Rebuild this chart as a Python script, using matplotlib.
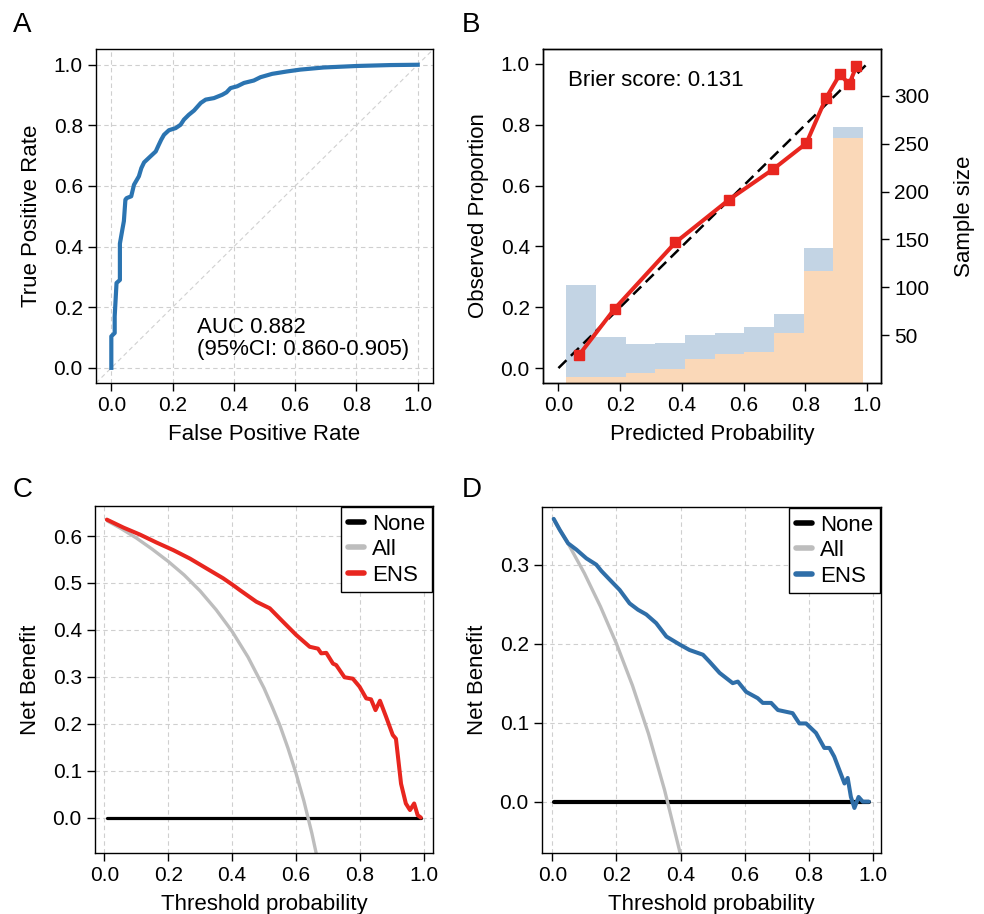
import matplotlib
matplotlib.use('Agg')
import matplotlib.pyplot as plt
import numpy as np

plt.rcParams['font.family'] = ['Liberation Sans', 'DejaVu Sans']
plt.rcParams['axes.linewidth'] = 1.0
plt.rcParams['xtick.major.size'] = 5.5
plt.rcParams['ytick.major.size'] = 5.5
plt.rcParams['xtick.major.width'] = 1.0
plt.rcParams['ytick.major.width'] = 1.0
plt.rcParams['xtick.labelsize'] = 15
plt.rcParams['ytick.labelsize'] = 15
plt.rcParams['axes.labelsize'] = 16

# ---------------- Data ----------------
# Panel A: ROC
roc_fpr = [0, 0, 0.011, 0.011, 0.017, 0.028, 0.028, 0.036, 0.041, 0.046, 0.05, 0.065, 0.074,
           0.09, 0.098, 0.107, 0.128, 0.145, 0.155, 0.163, 0.172, 0.188, 0.21, 0.226, 0.237,
           0.253, 0.27, 0.292, 0.308, 0.335, 0.362, 0.376, 0.389, 0.411, 0.433, 0.465, 0.487,
           0.525, 0.574, 0.617, 0.693, 0.802, 0.911, 1.0]
roc_tpr = [0, 0.104, 0.115, 0.17, 0.28, 0.29, 0.41, 0.456, 0.484, 0.555, 0.56, 0.566, 0.604,
           0.632, 0.659, 0.678, 0.698, 0.714, 0.736, 0.753, 0.769, 0.784, 0.791, 0.802, 0.819,
           0.835, 0.849, 0.874, 0.885, 0.89, 0.901, 0.909, 0.923, 0.929, 0.94, 0.948, 0.959,
           0.97, 0.978, 0.984, 0.991, 0.996, 0.999, 1.0]
auc_text = "AUC 0.882\n(95%CI: 0.860-0.905)"

# Panel B: calibration
cal_pred = [0.066, 0.182, 0.379, 0.553, 0.696, 0.803, 0.867, 0.912, 0.942, 0.965]
cal_obs = [0.042, 0.195, 0.413, 0.554, 0.654, 0.739, 0.888, 0.966, 0.933, 0.992]
hist_edges = [0.026, 0.122, 0.218, 0.314, 0.410, 0.506, 0.602, 0.698, 0.794, 0.890, 0.986]
hist_total = [102, 48, 41, 42, 50, 52, 58, 72, 141, 268]
hist_pos = [6, 6, 10, 15, 25, 30, 32, 52, 117, 256]
brier_text = "Brier score: 0.131"

# Panel C: DCA (red)
c_ens_t = [0.008, 0.06, 0.112, 0.164, 0.216, 0.268, 0.32, 0.372, 0.404, 0.424, 0.476, 0.518,
           0.56, 0.601, 0.643, 0.669, 0.679, 0.695, 0.716, 0.726, 0.752, 0.778, 0.799, 0.82,
           0.835, 0.849, 0.863, 0.882, 0.903, 0.913, 0.929, 0.944, 0.957, 0.97, 0.981, 0.991]
c_ens_nb = [0.635, 0.618, 0.603, 0.586, 0.570, 0.552, 0.531, 0.510, 0.495, 0.485, 0.460, 0.446,
            0.417, 0.389, 0.364, 0.360, 0.350, 0.351, 0.328, 0.325, 0.299, 0.296, 0.279, 0.254,
            0.252, 0.229, 0.249, 0.215, 0.176, 0.168, 0.072, 0.030, 0.016, 0.030, 0.005, 0.0]
c_all_t = [0.01, 0.05, 0.10, 0.15, 0.20, 0.25, 0.30, 0.35, 0.40, 0.45, 0.50, 0.525, 0.55,
           0.575, 0.60, 0.625, 0.65, 0.67]
c_all_nb = [0.632, 0.617, 0.596, 0.572, 0.546, 0.517, 0.483, 0.443, 0.397, 0.342, 0.276,
            0.237, 0.196, 0.148, 0.095, 0.035, -0.034, -0.097]
c_none_t = [0.01, 0.99]
c_none_nb = [0.0, 0.0]

# Panel D: DCA (blue)
d_ens_t = [0.004, 0.023, 0.049, 0.075, 0.106, 0.137, 0.153, 0.179, 0.21, 0.241, 0.267, 0.293,
           0.324, 0.356, 0.397, 0.428, 0.47, 0.491, 0.522, 0.563, 0.579, 0.605, 0.641, 0.657,
           0.683, 0.704, 0.75, 0.771, 0.792, 0.823, 0.849, 0.865, 0.88, 0.896, 0.912, 0.922,
           0.932, 0.943, 0.956, 0.969, 0.988]
d_ens_nb = [0.358, 0.344, 0.327, 0.319, 0.308, 0.300, 0.292, 0.281, 0.268, 0.251, 0.243, 0.237,
            0.226, 0.209, 0.199, 0.192, 0.186, 0.177, 0.163, 0.150, 0.152, 0.139, 0.131, 0.125,
            0.125, 0.116, 0.112, 0.099, 0.099, 0.087, 0.068, 0.068, 0.057, 0.040, 0.023, 0.030,
            0.006, -0.008, 0.006, 0.0, 0.0]
d_all_t = [0.004, 0.05, 0.10, 0.15, 0.20, 0.25, 0.30, 0.35, 0.40, 0.42]
d_all_nb = [0.357, 0.326, 0.289, 0.247, 0.200, 0.147, 0.086, 0.015, -0.067, -0.103]
d_none_t = [0.004, 0.99]
d_none_nb = [0.0, 0.0]

# ---------------- Figure ----------------
W, H = 984, 914
fig = plt.figure(figsize=(W / 100, H / 100), dpi=100)

def rect(l, r, t, b):
    return [l / W, 1 - b / H, (r - l) / W, (b - t) / H]

ax_a = fig.add_axes(rect(96, 433, 49, 383))
ax_b = fig.add_axes(rect(543, 881, 49, 383))
ax_c = fig.add_axes(rect(95, 433, 506, 853))
ax_d = fig.add_axes(rect(542, 881, 507, 853))

grid_kw = dict(color='#cfcfcf', linestyle=(0, (4, 3)), linewidth=0.8)
ticks = [0.0, 0.2, 0.4, 0.6, 0.8, 1.0]

# Panel A
ax_a.grid(True, **grid_kw)
ax_a.set_axisbelow(True)
ax_a.axline((0, 0), (1, 1), color='#d0d0d0', linestyle=(0, (4, 3)), linewidth=0.8)
ax_a.plot(roc_fpr, roc_tpr, color='#2b74b1', linewidth=3.0)
ax_a.set_xlim(-0.05, 1.05)
ax_a.set_ylim(-0.05, 1.052)
ax_a.set_xticks(ticks)
ax_a.set_yticks(ticks)
ax_a.set_xlabel('False Positive Rate', labelpad=6)
ax_a.set_ylabel('True Positive Rate', labelpad=8)
ax_a.text(0.28, 0.097, auc_text, fontsize=16, ha='left', va='center', linespacing=1.1)

# Panel B
ax_h = ax_b.twinx()
widths = np.diff(hist_edges)
ax_h.bar(hist_edges[:-1], hist_total, width=widths, align='edge', color='#c3d4e4', linewidth=0)
ax_h.bar(hist_edges[:-1], hist_pos, width=widths, align='edge', color='#fad8b8', linewidth=0)
ax_h.set_ylim(0, 349)
ax_h.set_yticks([50, 100, 150, 200, 250, 300])
ax_h.set_ylabel('Sample size', labelpad=18)
ax_b.set_zorder(ax_h.get_zorder() + 1)
ax_b.patch.set_visible(False)
ax_b.plot([0, 1], [0, 1], color='black', linestyle=(0, (4.5, 2.5)), linewidth=1.8)
ax_b.plot(cal_pred, cal_obs, color='#e8261f', linewidth=2.9, marker='s', markersize=7.5)
ax_b.set_xlim(-0.05, 1.045)
ax_b.set_ylim(-0.049, 1.049)
ax_b.set_xticks(ticks)
ax_b.set_yticks(ticks)
ax_b.set_xlabel('Predicted Probability', labelpad=6)
ax_b.set_ylabel('Observed Proportion', labelpad=8)
ax_b.text(0.03, 0.945, brier_text, fontsize=16, ha='left', va='center')

# Panel C / D
def dca(ax, none_t, none_nb, all_t, all_nb, ens_t, ens_nb, color, xlim, ylim, yticks, none_lw):
    ax.grid(True, **grid_kw)
    ax.set_axisbelow(True)
    ax.plot(none_t, none_nb, color='black', linewidth=none_lw, label='None', solid_capstyle='round')
    ax.plot(all_t, all_nb, color='#bdbdbd', linewidth=2.4, label='All', solid_capstyle='round')
    ax.plot(ens_t, ens_nb, color=color, linewidth=2.9, label='ENS', solid_capstyle='round')
    ax.set_xlim(*xlim)
    ax.set_ylim(*ylim)
    ax.set_xticks(ticks)
    ax.set_yticks(yticks)
    ax.set_xlabel('Threshold probability', labelpad=6)
    ax.set_ylabel('Net Benefit', labelpad=8)
    leg = ax.legend(loc='upper right', fontsize=16, frameon=True, fancybox=False,
                    edgecolor='black', framealpha=1, borderaxespad=0.05,
                    handlelength=0.75, handletextpad=0.35, labelspacing=0.2, borderpad=0.3)
    leg.get_frame().set_linewidth(1.0)
    for ln in leg.get_lines():
        ln.set_linewidth(4)
        ln.set_solid_capstyle('round')

dca(ax_c, c_none_t, c_none_nb, c_all_t, c_all_nb, c_ens_t, c_ens_nb, '#e8261f',
    (-0.029, 1.029), (-0.0755, 0.664), [0.0, 0.1, 0.2, 0.3, 0.4, 0.5, 0.6], 2.3)
dca(ax_d, d_none_t, d_none_nb, d_all_t, d_all_nb, d_ens_t, d_ens_nb, '#2f6ea8',
    (-0.0325, 1.026), (-0.065, 0.373), [0.0, 0.1, 0.2, 0.3], 3.0)

for ax in (ax_a, ax_b, ax_c, ax_d, ax_h):
    ax.tick_params(pad=4)

# Panel letters
for lab, x, y in [('A', 13, 32.5), ('B', 462, 32.5), ('C', 13, 497), ('D', 462, 497)]:
    fig.text(x / W, 1 - y / H, lab, fontsize=20, ha='left', va='baseline')

fig.savefig('out.png', dpi=100)
